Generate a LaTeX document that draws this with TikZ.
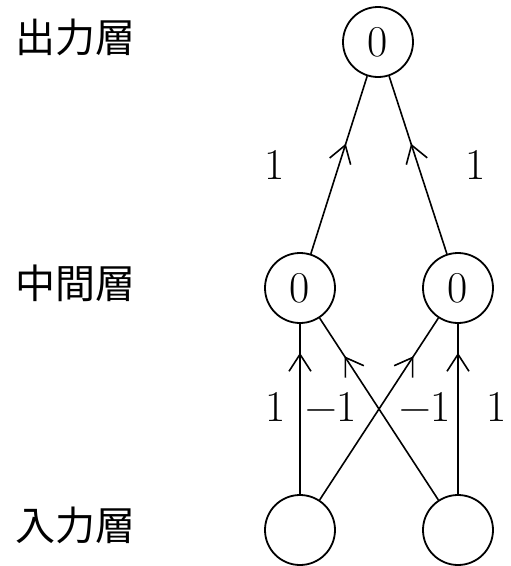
\documentclass[tikz,border=0pt]{standalone}
\usepackage{fontspec}
\newfontfamily\cjk{Noto Sans CJK JP}
\usetikzlibrary{arrows.meta,decorations.markings}
\begin{document}
\begin{tikzpicture}[x=1pt,y=-1pt,
  neuron/.style={circle,draw,line width=1.8pt,minimum size=70pt,inner sep=0pt,font=\fontsize{44}{44}\selectfont},
  layerlabel/.style={anchor=west,inner sep=0pt,font=\cjk\fontsize{40}{40}\selectfont},
  wlabel/.style={inner sep=0pt,font=\fontsize{44}{44}\selectfont},
  conn/.style={line width=1.6pt,postaction={decorate},
    decoration={markings,mark=at position #1 with {\arrow{Straight Barb[length=17pt,width=22pt,line width=1.6pt]}}}}
]
\useasboundingbox (0,0) rectangle (511,566);
\node[neuron] (o) at (378,42) {0};
\node[neuron] (h1) at (300,288) {0};
\node[neuron] (h2) at (458,288) {0};
\node[neuron] (i1) at (300,530) {};
\node[neuron] (i2) at (458,530) {};
\node[layerlabel] (l1) at (15,37) {出力層};
\node[layerlabel] (l2) at (15,283) {中間層};
\node[layerlabel] (l3) at (15,525) {入力層};
\draw[conn=0.62] (h1) -- (o);
\draw[conn=0.62] (h2) -- (o);
\draw[conn=0.83] (i1) -- (h1);
\draw[conn=0.83] (i2) -- (h2);
\draw[conn=0.79] (i1) -- (h2);
\draw[conn=0.79] (i2) -- (h1);
\node[wlabel] (w1) at (275,165) {1};
\node[wlabel] (w2) at (476,165) {1};
\node[wlabel] (w3) at (276,407) {1};
\node[wlabel] (w4) at (331,407) {−1};
\node[wlabel] (w5) at (425,407) {−1};
\node[wlabel] (w6) at (497,407) {1};
\end{tikzpicture}
\end{document}
